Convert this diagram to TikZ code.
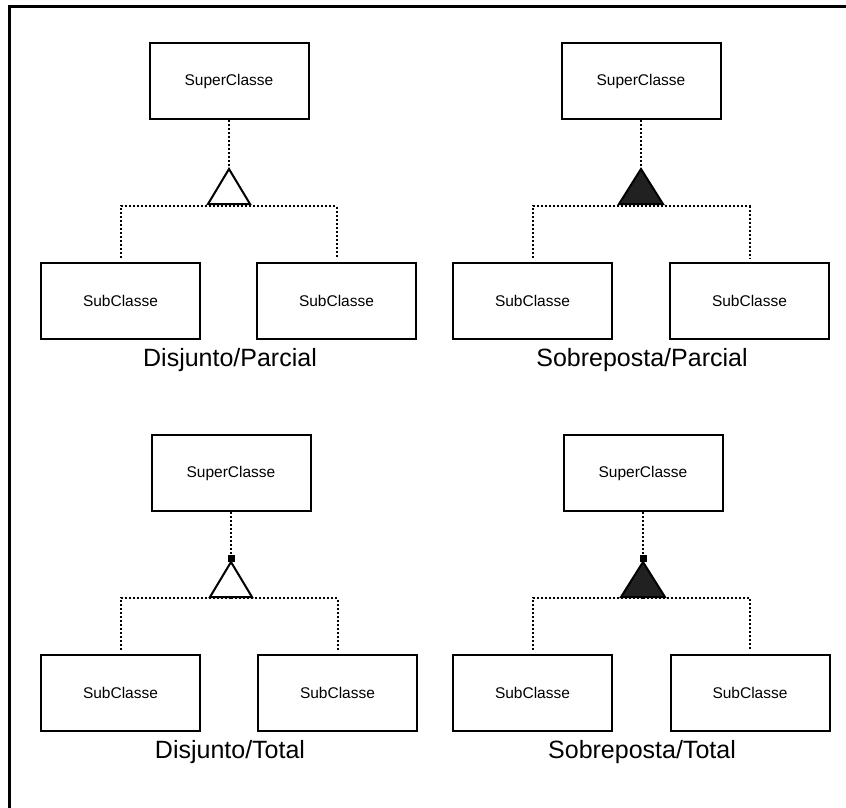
\documentclass[tikz,border=0pt]{standalone}
\usepackage{fontspec}
\setmainfont{Liberation Sans}
\begin{document}
\begin{tikzpicture}[x=1pt,y=-1pt,
  cls/.style={draw,line width=2pt,minimum width=159pt,minimum height=76pt,inner sep=0pt,font=\fontsize{15.5}{18}\selectfont},
  lbl/.style={font=\fontsize{25}{30}\selectfont,inner sep=0pt},
  link/.style={line width=2pt,dash pattern=on 2pt off 2pt},
  gen/.style={line width=2pt,line join=miter},
  gopen/.style={gen,fill=white},
  gfull/.style={gen,fill=black!87},
  frame/.style={line width=3pt}
]
\useasboundingbox (0,0) rectangle (846,808);
\draw[frame] (9,808) -- (9,7) -- (846,7);

% ---------- Disjunto/Parcial ----------
\node[cls] (s1) at (229,81) {SuperClasse};
\node[cls] (a1) at (120.5,301) {SubClasse};
\node[cls] (b1) at (336.5,301) {SubClasse};
\node[lbl] (l1) at (230,360) {Disjunto/Parcial};
\coordinate (t1) at (229,169);
\coordinate (j1) at (229,206);
\draw[link] (s1.south) -- (t1);
\draw[link,shorten <=4pt] (a1.north) |- (j1);
\draw[link,shorten >=4pt] (j1) -| (b1.north);
\draw[gopen] (t1) -- ++(-21,35) -- ++(42,0) -- cycle;

% ---------- Sobreposta/Parcial ----------
\node[cls] (s2) at (641,81) {SuperClasse};
\node[cls] (a2) at (532.5,301) {SubClasse};
\node[cls] (b2) at (749.5,301) {SubClasse};
\node[lbl] (l2) at (642,360) {Sobreposta/Parcial};
\coordinate (t2) at (641,169);
\coordinate (j2) at (641,206);
\draw[link] (s2.south) -- (t2);
\draw[link,shorten <=4pt] (a2.north) |- (j2);
\draw[link,shorten >=4pt] (j2) -| (b2.north);
\draw[gfull] (t2) -- ++(-22,35) -- ++(44,0) -- cycle;

% ---------- Disjunto/Total ----------
\node[cls] (s3) at (231,473) {SuperClasse};
\node[cls] (a3) at (120.5,693) {SubClasse};
\node[cls] (b3) at (337.5,693) {SubClasse};
\node[lbl] (l3) at (230,752) {Disjunto/Total};
\coordinate (t3) at (231,562);
\coordinate (j3) at (231,598);
\draw[link] (s3.south) -- ([yshift=-6pt]t3);
\draw[link,shorten <=4pt] (a3.north) |- (j3);
\draw[link,shorten >=4pt] (j3) -| (b3.north);
\draw[gopen] (t3) -- ++(-21,35) -- ++(42,0) -- cycle;
\fill ([xshift=-3.5pt,yshift=0.5pt]t3) rectangle ++(7,-6.5);

% ---------- Sobreposta/Total ----------
\node[cls] (s4) at (643,473) {SuperClasse};
\node[cls] (a4) at (532.5,693) {SubClasse};
\node[cls] (b4) at (750,693) {SubClasse};
\node[lbl] (l4) at (642,752) {Sobreposta/Total};
\coordinate (t4) at (643,562);
\coordinate (j4) at (643,598);
\draw[link] (s4.south) -- ([yshift=-6pt]t4);
\draw[link,shorten <=4pt] (a4.north) |- (j4);
\draw[link,shorten >=4pt] (j4) -| (b4.north);
\draw[gfull] (t4) -- ++(-22,35) -- ++(44,0) -- cycle;
\fill ([xshift=-3.5pt,yshift=0.5pt]t4) rectangle ++(7,-6.5);
\end{tikzpicture}
\end{document}
